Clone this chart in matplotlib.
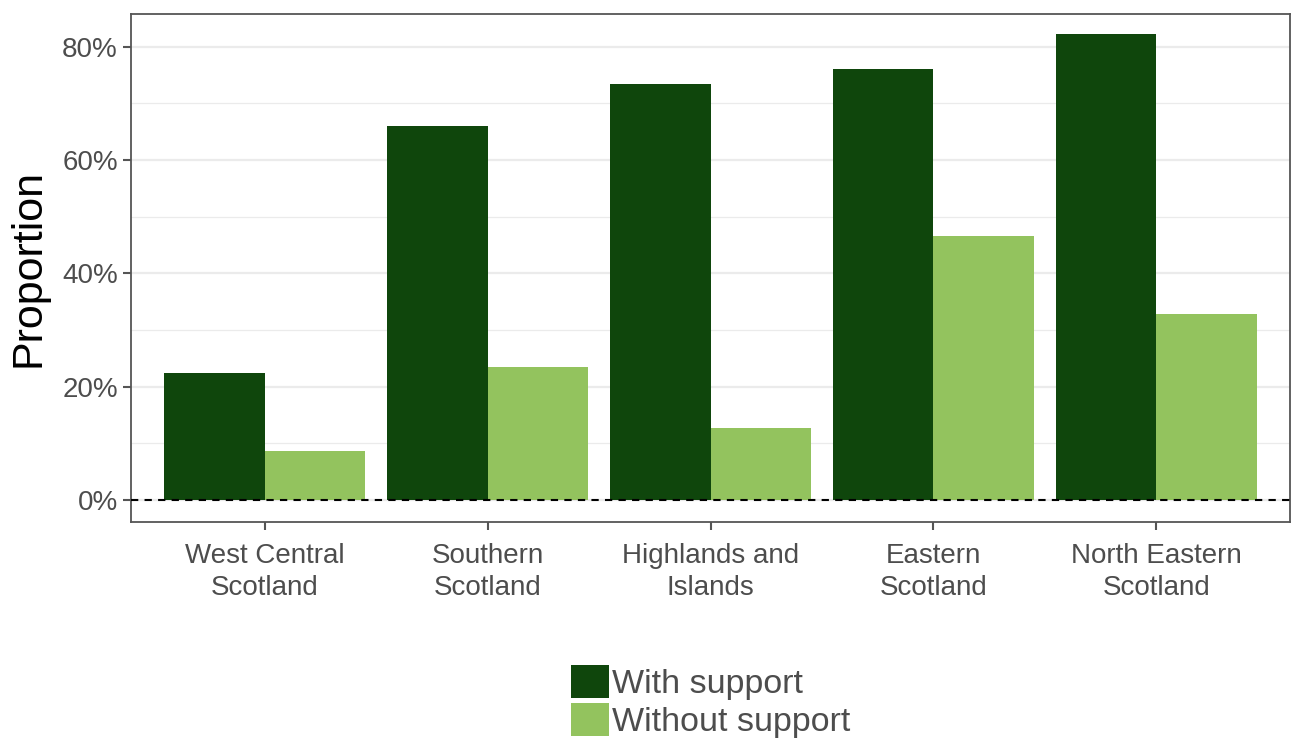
import matplotlib.pyplot as plt
import numpy as np
from matplotlib.ticker import FuncFormatter, MultipleLocator

plt.rcParams['font.family'] = ['Liberation Sans', 'DejaVu Sans']

# ==================== Data ====================
regions = ["West Central\nScotland", "Southern\nScotland", "Highlands and\nIslands",
           "Eastern\nScotland", "North Eastern\nScotland"]
with_support = [22.4, 66.0, 73.4, 76.1, 82.2]
without_support = [8.7, 23.5, 12.7, 46.6, 32.8]
series_names = ["With support", "Without support"]
colours = ["#0F460C", "#93C35E"]

# ==================== Plot ====================
fig = plt.figure(figsize=(12.95, 7.43), dpi=100)
ax = fig.add_axes([0.1012, 0.2974, 0.8949, 0.6838])

x = np.arange(len(regions))
w = 0.45
ax.bar(x - w / 2, with_support, width=w, color=colours[0], label=series_names[0], zorder=2)
ax.bar(x + w / 2, without_support, width=w, color=colours[1], label=series_names[1], zorder=2)

ax.axhline(0, color="black", linestyle=(0, (3.5, 3)), linewidth=1.5, zorder=3)

ax.set_xlim(-0.6, 4.6)
ax.set_ylim(-3.9, 85.8)
ax.yaxis.set_major_locator(MultipleLocator(20))
ax.yaxis.set_minor_locator(MultipleLocator(10))
ax.yaxis.set_major_formatter(FuncFormatter(lambda v, p: f"{v:.0f}%"))
ax.grid(axis="y", which="major", color="#EBEBEB", linewidth=1.6, zorder=0)
ax.grid(axis="y", which="minor", color="#EBEBEB", linewidth=0.9, zorder=0)
ax.set_axisbelow(True)

ax.set_xticks(x)
ax.set_xticklabels(regions, fontsize=20, color="#4D4D4D", linespacing=1.3)
ax.tick_params(axis="y", which="major", labelsize=20, labelcolor="#4D4D4D",
               color="#555555", length=6, width=1.5)
ax.tick_params(axis="y", which="minor", length=0)
ax.tick_params(axis="x", color="#555555", length=6, width=1.5, pad=9)

for s in ax.spines.values():
    s.set_color("#555555")
    s.set_linewidth(1.3)

ax.set_ylabel("Proportion", fontsize=31, color="black", labelpad=10)

handles, labels = ax.get_legend_handles_labels()
fig.legend(handles, labels, loc="center", bbox_to_anchor=(0.549, 0.0555),
           frameon=False, fontsize=24.5, labelcolor="#4D4D4D",
           handlelength=1.1, handleheight=1.1, handletextpad=0.1,
           labelspacing=0.1, borderpad=0)

fig.savefig("out.png", dpi=100)
